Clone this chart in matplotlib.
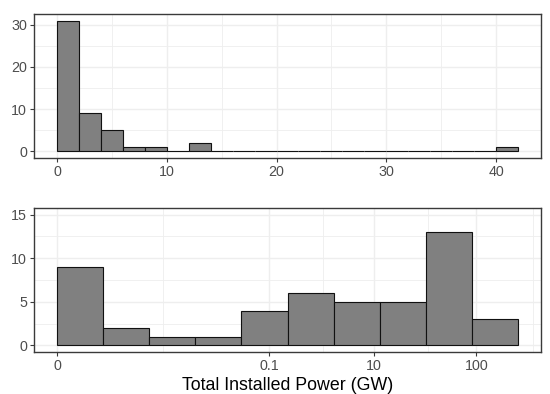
import matplotlib
matplotlib.use("Agg")
import matplotlib.pyplot as plt
import numpy as np

plt.rcParams['font.family'] = ['Liberation Sans', 'DejaVu Sans']

# Top panel: linear histogram, bin width 2 GW
top_edges = list(range(0, 44, 2))
top_counts = [31, 9, 5, 1, 1, 0, 2, 0, 0, 0, 0, 0, 0, 0, 0, 0, 0, 0, 0, 0, 1]
top_xticks = [0, 10, 20, 30, 40]
top_yticks = [0, 10, 20, 30]

# Bottom panel: log-transformed histogram, 10 equal bins (bin index units)
bot_counts = [9, 2, 1, 1, 4, 6, 5, 5, 13, 3]
bot_tick_labels = ["0", "0.1", "10", "100"]
bot_tick_pos = [0.0, 4.6, 6.88, 9.1]
bot_minor_pos = [2.3, 5.76, 8.04, 10.33]
bot_yticks = [0, 5, 10, 15]

xlabel = "Total Installed Power (GW)"

fig = plt.figure(figsize=(5.5, 3.94), dpi=100)
W, H = 550, 394

def add_ax(x0, y0, x1, y1):
    return fig.add_axes([x0 / W, 1 - y1 / H, (x1 - x0) / W, (y1 - y0) / H])

ax1 = add_ax(34, 14, 541, 158)
ax2 = add_ax(34, 208, 541, 352)

grid_c = "#EEEEEE"
edge_c = "#3A3A3A"
tick_c = "#4D4D4D"

def style(ax):
    ax.set_facecolor("white")
    for s in ax.spines.values():
        s.set_color(edge_c)
        s.set_linewidth(1.0)
    ax.tick_params(axis="both", which="major", colors=edge_c, length=3, width=0.8,
                   labelsize=10.3, labelcolor=tick_c, pad=2)
    ax.tick_params(axis="both", which="minor", length=0)
    ax.grid(True, which="major", color=grid_c, linewidth=1.0, zorder=0)
    ax.grid(True, which="minor", color=grid_c, linewidth=0.6, zorder=0)
    ax.set_axisbelow(True)

# Top
lefts = top_edges[:-1]
ax1.bar(lefts, top_counts, width=2, align="edge", color="#808080",
        edgecolor="#111111", linewidth=0.8, zorder=2)
ax1.set_xlim(-2.1, 44.1)
ax1.set_ylim(-1.55, 32.55)
ax1.set_xticks(top_xticks)
ax1.set_xticks([5, 15, 25, 35], minor=True)
ax1.set_yticks(top_yticks)
ax1.set_yticks([5, 15, 25], minor=True)
style(ax1)

# Bottom
bl = np.arange(len(bot_counts))
ax2.bar(bl, bot_counts, width=1, align="edge", color="#808080",
        edgecolor="#111111", linewidth=0.8, zorder=2)
ax2.set_xlim(-0.5, 10.5)
ax2.set_ylim(-0.75, 15.75)
ax2.set_xticks(bot_tick_pos)
ax2.set_xticklabels(bot_tick_labels)
ax2.set_xticks(bot_minor_pos, minor=True)
ax2.set_yticks(bot_yticks)
ax2.set_yticks([2.5, 7.5, 12.5], minor=True)
style(ax2)
ax2.set_xlabel(xlabel, fontsize=12.8, color="black", labelpad=3)

fig.savefig("out.png", dpi=100, facecolor="white")
